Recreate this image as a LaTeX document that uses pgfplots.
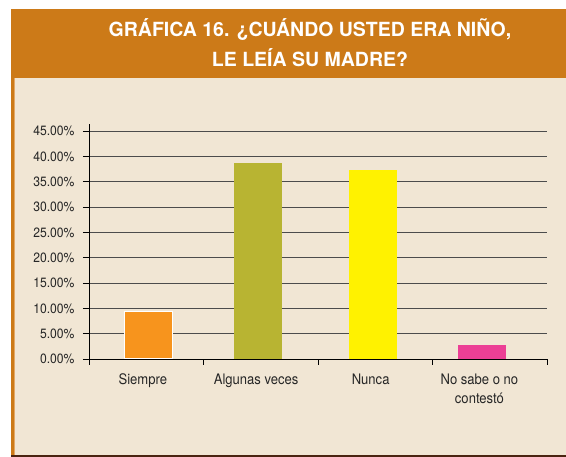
\documentclass[border=0pt]{standalone}
\usepackage{fontspec}
\setmainfont{TeX Gyre Heros}[FakeStretch=0.9]
\newfontfamily\titlefont{TeX Gyre Heros}
\usepackage{pgfplots}
\pgfplotsset{compat=1.18}
\definecolor{HeadOrange}{HTML}{CC7A18}
\definecolor{Beige}{HTML}{F1E6D4}
\definecolor{EdgeLight}{HTML}{E3A867}
\definecolor{BottomBrown}{HTML}{4A2410}
\definecolor{BarOrange}{HTML}{F7941D}
\definecolor{BarOlive}{HTML}{B8B432}
\definecolor{BarYellow}{HTML}{FFF200}
\definecolor{BarPink}{HTML}{EC3F95}
\begin{document}
\begin{tikzpicture}
  % frame of the figure
  \fill[white] (0pt,0pt) rectangle (566pt,-457pt);
  \fill[HeadOrange] (11pt,-9pt) rectangle (566pt,-78pt);
  \fill[Beige] (11pt,-78pt) rectangle (566pt,-455pt);
  \fill[HeadOrange] (11pt,-78pt) rectangle (14pt,-455pt);
  \fill[EdgeLight] (14pt,-78pt) rectangle (15pt,-455pt);
  \fill[BottomBrown] (11pt,-455pt) rectangle (566pt,-457pt);
  \node[anchor=base,text=white,font=\titlefont\bfseries\fontsize{19.5}{22}\selectfont,inner sep=0pt]
    at (310pt,-36.7pt) {GRÁFICA 16. ¿CUÁNDO USTED ERA NIÑO,};
  \node[anchor=base,text=white,font=\titlefont\bfseries\fontsize{19.5}{22}\selectfont,inner sep=0pt]
    at (310pt,-66.7pt) {LE LEÍA SU MADRE?};
  \begin{axis}[
    at={(89pt,-359pt)},anchor=south west,
    scale only axis,width=458pt,height=235pt,
    xmin=-0.5,xmax=3.5,ymin=0,ymax=46.4,
    axis x line*=bottom,axis y line*=left,
    axis line style={black,line width=0.9pt,-},
    tick align=outside,major tick length=6pt,
    tick style={black,line width=0.9pt},
    ytick={0,5,...,45},
    /pgf/number format/assume math mode=true,
    yticklabel={\pgfmathprintnumber[fixed,fixed zerofill,precision=2]{\tick}\%},
    yticklabel style={font=\fontsize{13.5}{15}\selectfont,text=black!85,xshift=-5pt},
    ymajorgrids,grid style={black!70,line width=0.9pt},
    xtick={-0.5,0.5,1.5,2.5,3.5},xticklabels={},
    extra x ticks={-0.03,0.96,1.96,2.91},
    extra x tick labels={Siempre,Algunas veces,Nunca,{No sabe o no\\contestó}},
    extra x tick style={major tick length=0pt,grid=none},
    xticklabel style={font=\fontsize{14.5}{19}\selectfont,text=black!85,align=center,yshift=-11pt},
  ]
    \addplot[ybar,bar shift=0pt,bar width=48pt,fill=BarOrange,draw=white,line width=1pt]
      coordinates {(0.02,9.35)};
    \addplot[ybar,bar shift=0pt,bar width=48pt,fill=BarOlive,draw=none]
      coordinates {(0.98,38.7)};
    \addplot[ybar,bar shift=0pt,bar width=48pt,fill=BarYellow,draw=none]
      coordinates {(1.98,37.35)};
    \addplot[ybar,bar shift=0pt,bar width=48pt,fill=BarPink,draw=none]
      coordinates {(2.93,2.75)};
  \end{axis}
\end{tikzpicture}
\end{document}
